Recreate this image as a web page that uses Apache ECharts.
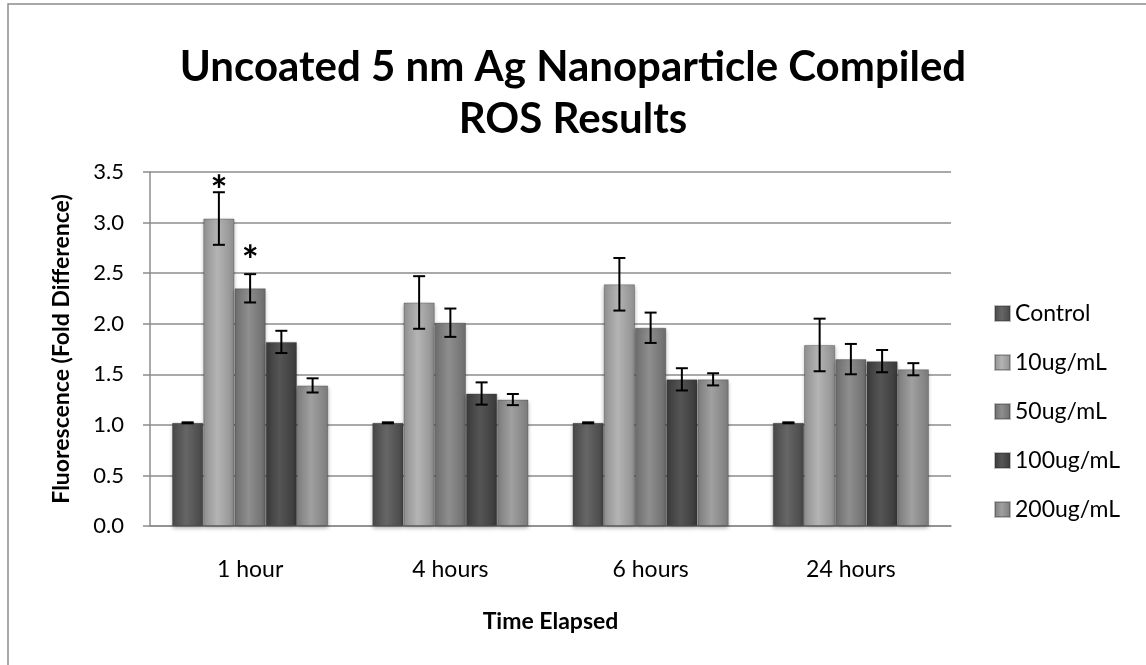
<!DOCTYPE html>
<html>
<head>
<meta charset="utf-8">
<title>ROS Results</title>
<script src="https://cdn.jsdelivr.net/npm/echarts@6/dist/echarts.min.js"></script>
<style>
    html, body { margin: 0; padding: 0; background: #fff; }
    #chart { width: 1146px; height: 665px; }
</style>
</head>
<body>
<div id="chart"></div>
<script>
// 数据
var categories = ['1 hour', '4 hours', '6 hours', '24 hours'];
var seriesNames = ['Control', '10ug/mL', '50ug/mL', '100ug/mL', '200ug/mL'];

var control = [1.02, 1.02, 1.02, 1.02];
var ug10 = [3.04, 2.21, 2.39, 1.79];
var ug50 = [2.35, 2.01, 1.96, 1.65];
var ug100 = [1.82, 1.31, 1.45, 1.63];
var ug200 = [1.39, 1.25, 1.45, 1.55];

// 误差 (+/-)
var controlErr = [0.005, 0.005, 0.005, 0.005];
var ug10Err = [0.26, 0.26, 0.26, 0.26];
var ug50Err = [0.14, 0.14, 0.15, 0.15];
var ug100Err = [0.11, 0.11, 0.11, 0.11];
var ug200Err = [0.07, 0.055, 0.06, 0.06];

// 显著性标记
var sigMarks = [
    ['', '', '', ''],
    ['*', '', '', ''],
    ['*', '', '', ''],
    ['', '', '', ''],
    ['', '', '', '']
];

var yTicks = [0, 0.5, 1, 1.5, 2, 2.5, 3, 3.5];

var values = [control, ug10, ug50, ug100, ug200];
var errors = [controlErr, ug10Err, ug50Err, ug100Err, ug200Err];

// 柱子颜色: [边缘, 中间]
var barColors = [
    ['#474747', '#666666'],
    ['#8f8f8f', '#b4b4b4'],
    ['#6c6c6c', '#8e8e8e'],
    ['#393939', '#555555'],
    ['#7c7c7c', '#a0a0a0']
];

var catGap = 0.22;
var font = 'Lato, "Open Sans", sans-serif';

var chart = echarts.init(document.getElementById('chart'));

var series = [];
for (var s = 0; s < seriesNames.length; s++) {
    series.push({
        name: seriesNames[s],
        type: 'bar',
        data: values[s],
        barGap: '0%',
        barCategoryGap: (catGap * 100) + '%',
        itemStyle: {
            color: new echarts.graphic.LinearGradient(0, 0, 1, 0, [
                {offset: 0, color: barColors[s][0]},
                {offset: 0.45, color: barColors[s][1]},
                {offset: 1, color: barColors[s][0]}
            ]),
            borderColor: 'rgba(40,40,40,0.3)',
            borderWidth: 1,
            shadowColor: 'rgba(0,0,0,0.3)',
            shadowBlur: 4,
            shadowOffsetY: 2
        },
        z: 2
    });
}

// 误差线数据 [category, value, err, seriesIdx]
var errData = [];
for (var s2 = 0; s2 < values.length; s2++) {
    for (var c = 0; c < categories.length; c++) {
        errData.push([c, values[s2][c], errors[s2][c], s2]);
    }
}

series.push({
    type: 'custom',
    name: 'err',
    data: errData,
    encode: {x: 0, y: 1},
    z: 5,
    silent: true,
    renderItem: function (params, api) {
        var c = api.value(0);
        var v = api.value(1);
        var e = api.value(2);
        var si = api.value(3);
        var band = api.size([1, 0])[0];
        var block = band * (1 - catGap);
        var bw = block / seriesNames.length;
        var center = api.coord([c, v]);
        var x = center[0] - block / 2 + bw * (si + 0.5);
        var top = api.coord([c, v + e])[1];
        var bot = api.coord([c, v - e])[1];
        var cap = 6;
        var st = {stroke: '#000', lineWidth: 2};
        var children = [
            {type: 'line', shape: {x1: x, y1: top, x2: x, y2: bot}, style: st},
            {type: 'line', shape: {x1: x - cap, y1: top, x2: x + cap, y2: top}, style: st},
            {type: 'line', shape: {x1: x - cap, y1: bot, x2: x + cap, y2: bot}, style: st}
        ];
        var mark = sigMarks[si][c];
        if (mark) {
            // 星号放在柱顶上方
            children.push({
                type: 'text',
                style: {
                    text: mark, x: x, y: center[1] - 26,
                    align: 'center', verticalAlign: 'middle',
                    font: 'bold 40px ' + font, fill: '#000'
                }
            });
        }
        return {type: 'group', children: children};
    }
});

var option = {
    animation: false,
    backgroundColor: '#fff',
    title: {
        text: 'Uncoated 5 nm Ag Nanoparticle Compiled\nROS Results',
        left: 'center',
        top: 36,
        textStyle: {
            fontFamily: font,
            fontSize: 42,
            fontWeight: 'bold',
            color: '#000',
            lineHeight: 52
        }
    },
    graphic: [{
        type: 'rect',
        shape: {x: 8, y: 4, width: 1200, height: 700},
        style: {fill: 'none', stroke: '#8c8c8c', lineWidth: 1.5},
        silent: true
    }],
    legend: {
        orient: 'vertical',
        left: 989,
        top: 297,
        itemGap: 26,
        itemWidth: 15,
        itemHeight: 15,
        icon: 'rect',
        data: seriesNames,
        textStyle: {fontFamily: font, fontSize: 23, color: '#000'}
    },
    grid: {
        left: 150,
        right: 195,
        top: 172,
        bottom: 139
    },
    xAxis: {
        type: 'category',
        data: categories,
        name: 'Time Elapsed',
        nameLocation: 'middle',
        nameGap: 84,
        nameTextStyle: {fontFamily: font, fontSize: 23, fontWeight: 'bold', color: '#000'},
        axisLine: {lineStyle: {color: '#8c8c8c', width: 1.5}},
        axisTick: {show: false},
        axisLabel: {fontFamily: font, fontSize: 23, color: '#000', margin: 32}
    },
    yAxis: {
        type: 'value',
        min: yTicks[0],
        max: yTicks[yTicks.length - 1],
        interval: 0.5,
        name: 'Fluorescence (Fold Difference)',
        nameLocation: 'middle',
        nameGap: 77,
        nameTextStyle: {fontFamily: font, fontSize: 23, fontWeight: 'bold', color: '#000'},
        axisLine: {show: true, lineStyle: {color: '#8c8c8c', width: 1.5}},
        axisTick: {show: true, length: 7, lineStyle: {color: '#8c8c8c', width: 1.5}},
        splitLine: {lineStyle: {color: '#8c8c8c', width: 1.5}},
        axisLabel: {
            fontFamily: font, fontSize: 22, color: '#000', margin: 26,
            formatter: function (v) { return v.toFixed(1); }
        }
    },
    series: series
};

chart.setOption(option);
</script>
</body>
</html>
